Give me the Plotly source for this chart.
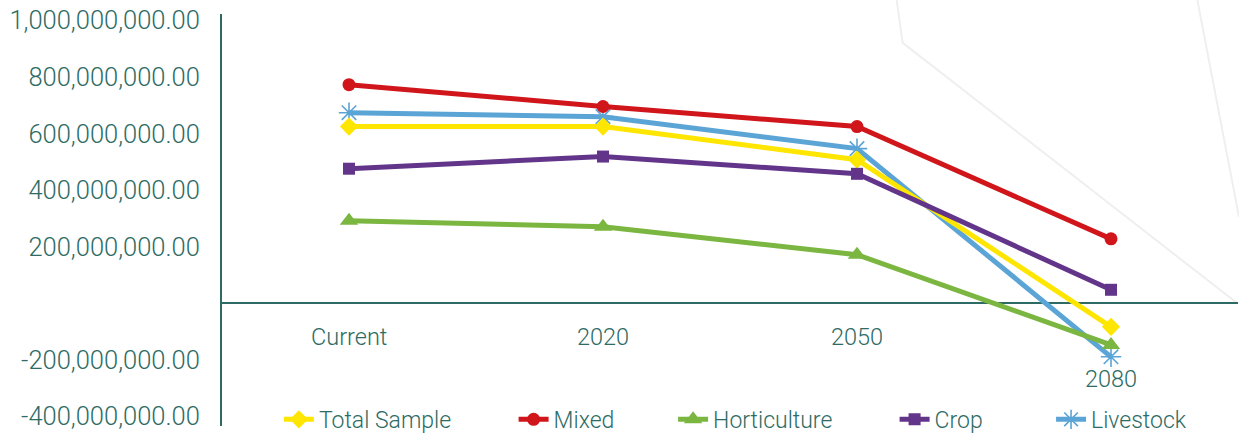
import plotly.graph_objects as go

categories = ["Current", "2020", "2050", "2080"]
total_sample = [625e6, 625e6, 508e6, -83e6]
mixed = [773e6, 696e6, 625e6, 228e6]
horticulture = [292e6, 271e6, 172e6, -147e6]
crop = [476e6, 519e6, 458e6, 48e6]
livestock = [674e6, 660e6, 547e6, -189e6]

tick_values = [-400e6, -200e6, 200e6, 400e6, 600e6, 800e6, 1000e6]
tick_labels = ["-400,000,000.00", "-200,000,000.00", "200,000,000.00",
               "400,000,000.00", "600,000,000.00", "800,000,000.00",
               "1,000,000,000.00"]

TEAL = "#2D6B64"
FONT = "Roboto"

fig = go.Figure()

# drawing order: livestock first (it sits beneath others in the reference)
series = [
    ("Livestock", livestock, "#5BA4D6", "asterisk-open", 17, "legend5", 5),
    ("Total Sample", total_sample, "#FFE600", "diamond", 14, "legend", 1),
    ("Mixed", mixed, "#D0161B", "circle", 13, "legend2", 2),
    ("Horticulture", horticulture, "#7AB640", "triangle-up", 16, "legend3", 3),
    ("Crop", crop, "#62358A", "square", 12, "legend4", 4),
]
for name, vals, color, sym, size, leg, rank in series:
    marker = dict(symbol=sym, size=size, color=color)
    if sym.endswith("open"):
        marker["line"] = dict(color=color, width=1.6)
    fig.add_trace(go.Scatter(
        x=categories, y=vals, name=name, mode="lines+markers",
        line=dict(color=color, width=5), marker=marker,
        legend=leg, legendrank=rank, showlegend=True,
    ))

# category labels placed like the reference
label_y = {"Current": -119e6, "2020": -119e6, "2050": -119e6, "2080": -267e6}
for i, c in enumerate(categories):
    fig.add_annotation(x=i, y=label_y[c], text=c, showarrow=False,
                       font=dict(family=FONT, size=23.5, color=TEAL, weight=300),
                       xanchor="center", yanchor="middle")

# faint decorative background lines
fig.add_shape(type="path", xref="paper", yref="paper",
              path="M0.664,1.034 L0.670,0.930 L0.999,0.2985",
              line=dict(color="#EFEFEF", width=2), layer="below")
fig.add_shape(type="path", xref="paper", yref="paper",
              path="M0.960,1.034 L1.001,0.507",
              line=dict(color="#EFEFEF", width=2), layer="below")

legend_common = dict(orientation="h", yanchor="bottom", y=-0.036,
                     xanchor="left", bgcolor="rgba(0,0,0,0)",
                     font=dict(family=FONT, size=23, color=TEAL, weight=300))
fig.update_layout(
    showlegend=True,
    legend=dict(x=0.056, **legend_common),
    legend2=dict(x=0.287, **legend_common),
    legend3=dict(x=0.444, **legend_common),
    legend4=dict(x=0.662, **legend_common),
    legend5=dict(x=0.816, **legend_common),
)

fig.update_layout(
    width=1239, height=441,
    margin=dict(l=222, r=1, t=14, b=15, autoexpand=False),
    paper_bgcolor="white", plot_bgcolor="white",
    font=dict(family=FONT, color=TEAL),
    xaxis=dict(type="category", range=[-0.5, 3.5], showticklabels=False,
               showgrid=False, zeroline=False, showline=False, ticks=""),
    yaxis=dict(range=[-433.6e6, 1023e6], tickvals=tick_values,
               ticktext=tick_labels, showgrid=False,
               zeroline=True, zerolinecolor=TEAL, zerolinewidth=2,
               showline=True, linecolor=TEAL, linewidth=2, ticks="",
               ticklabelstandoff=15,
               tickfont=dict(family=FONT, size=25.5, color=TEAL, weight=300)),
)

fig.write_html("out.html")
